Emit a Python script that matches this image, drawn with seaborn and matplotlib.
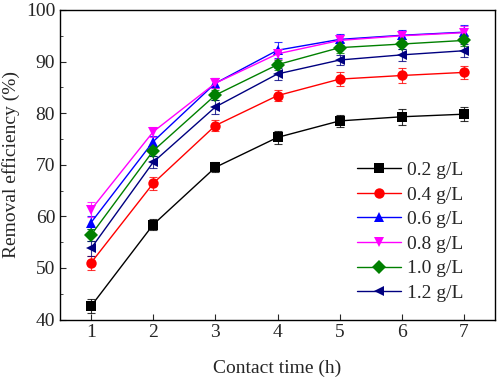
import numpy as np
import pandas as pd
import matplotlib.pyplot as plt
import seaborn as sns

sns.set_style("ticks")
plt.rcParams['font.family'] = ['Liberation Serif', 'DejaVu Serif']

# data
time_h = [1, 2, 3, 4, 5, 6, 7]
doses = ['0.2 g/L', '0.4 g/L', '0.6 g/L', '0.8 g/L', '1.0 g/L', '1.2 g/L']
eff_02 = [42.6, 58.4, 69.5, 75.3, 78.5, 79.3, 79.8]
eff_04 = [51.0, 66.4, 77.6, 83.4, 86.6, 87.3, 87.9]
eff_06 = [58.8, 74.5, 85.8, 92.2, 94.3, 95.1, 95.7]
eff_08 = [61.3, 76.4, 85.8, 91.5, 94.1, 95.0, 95.6]
eff_10 = [56.4, 72.7, 83.5, 89.4, 92.7, 93.4, 94.1]
eff_12 = [53.8, 70.5, 81.2, 87.6, 90.3, 91.3, 92.1]
err_02 = [1.4, 1.0, 1.0, 1.2, 1.1, 1.5, 1.3]
err_04 = [1.4, 1.2, 1.1, 1.1, 1.3, 1.4, 1.3]
err_06 = [1.2, 1.0, 1.0, 1.5, 1.0, 1.1, 1.3]
err_08 = [1.5, 1.0, 1.0, 1.0, 1.0, 1.0, 1.3]
err_10 = [1.2, 1.0, 1.0, 1.0, 1.0, 1.0, 1.0]
err_12 = [1.5, 1.2, 1.3, 1.2, 1.0, 1.2, 1.3]

effs = [eff_02, eff_04, eff_06, eff_08, eff_10, eff_12]
errs = [err_02, err_04, err_06, err_08, err_10, err_12]
colors = ['black', 'red', 'blue', 'magenta', 'green', 'navy']
markers = ['s', 'o', '^', 'v', 'D', '<']

df = pd.concat([pd.DataFrame({'time': time_h, 'eff': e, 'err': r, 'dose': d})
                for d, e, r in zip(doses, effs, errs)], ignore_index=True)

fig = plt.figure(figsize=(4.98, 3.81), dpi=100)
ax = fig.add_axes([0.1205, 0.1614, 0.8735, 0.8124])

# error bars first, lines and markers on top
for d, c in zip(doses, colors):
    sub = df[df['dose'] == d]
    ax.errorbar(sub['time'], sub['eff'], yerr=sub['err'], fmt='none',
                ecolor=c, elinewidth=0.8, capsize=3, capthick=0.8, alpha=0.8, zorder=2)

sns.lineplot(data=df, x='time', y='eff', hue='dose', style='dose',
             hue_order=doses, style_order=doses, palette=colors,
             markers=markers, dashes=False, markersize=7.5, markeredgewidth=0,
             linewidth=1.0, ax=ax, zorder=3)

ax.set_xlim(0.5, 7.5)
ax.set_ylim(40, 100)
ax.set_xticks(time_h)
ax.set_yticks(np.arange(40, 101, 10))
ax.set_yticks(np.arange(45, 100, 10), minor=True)
ax.tick_params(axis='both', which='both', direction='in', labelsize=14)
ax.tick_params(which='major', length=4)
ax.tick_params(which='minor', length=2.5)
for s in ax.spines.values():
    s.set_linewidth(1.0)
    s.set_color('black')

ax.set_xlabel('Contact time (h)', fontsize=14, labelpad=13)
ax.set_ylabel('Removal efficiency (%)', fontsize=14)

handles, labels = ax.get_legend_handles_labels()
ax.legend(handles, labels, loc='lower right', frameon=False, fontsize=14,
          handlelength=2.3, handletextpad=0.3, labelspacing=0.36,
          bbox_to_anchor=(0.968, 0.0))

fig.savefig('out.png', dpi=100)
